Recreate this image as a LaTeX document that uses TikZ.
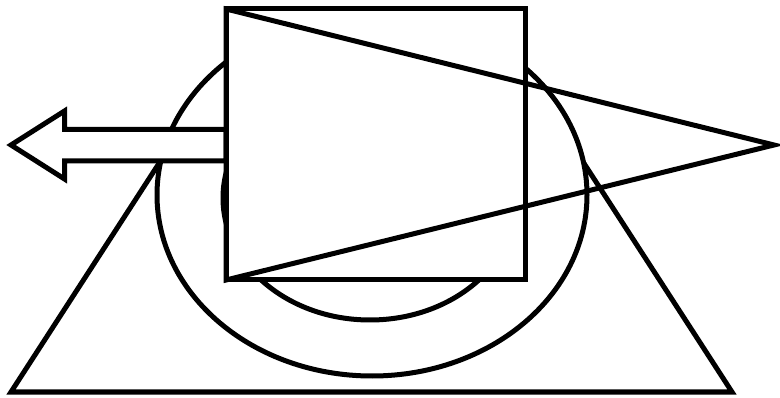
\documentclass[tikz,border=0pt]{standalone}
\begin{document}
\begin{tikzpicture}[x=1pt,y=-1pt,
  shape line/.style={draw=black,line width=5pt,line join=miter},
  filled/.style={shape line,fill=white}]
\useasboundingbox (0,0) rectangle (780,398);
% trapezoid (top hidden behind ellipse)
\draw[shape line] (11,392) -- (732,392) -- (543,100) -- (200,100) -- cycle;
% big ellipse
\draw[filled] (372,195) ellipse [x radius=215, y radius=181];
% inner ellipse
\draw[filled] (370,198) ellipse [x radius=147, y radius=122];
% block arrow
\draw[filled] (11,145) -- (64.5,111) -- (64.5,129.5) -- (226,129.5) -- (226,161) -- (64.5,161) -- (64.5,179) -- cycle;
% square
\draw[filled] (226,9) rectangle (525,280);
% triangle
\draw[shape line] (226,9) -- (774,145) -- (226,280) -- cycle;
\end{tikzpicture}
\end{document}
